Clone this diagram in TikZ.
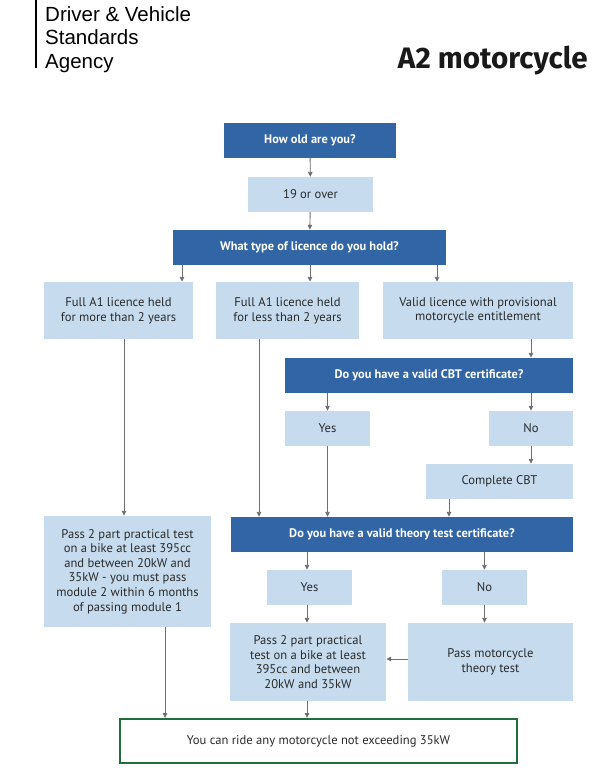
\documentclass[tikz,border=0pt]{standalone}
\usepackage{fontspec}
\setmainfont{PT Sans}
\newfontfamily\headfont{Liberation Sans}
\newfontfamily\titlefont{Fira Sans}
\usetikzlibrary{arrows.meta, calc}

\definecolor{qblue}{HTML}{3165A5}
\definecolor{lblue}{HTML}{C6DCEE}
\definecolor{okgreen}{HTML}{1F6E3C}
\definecolor{linegray}{HTML}{6E6E6E}
\definecolor{txtgray}{HTML}{2A2A2A}

\tikzset{
  qbox/.style={fill=qblue, text=white, inner sep=0pt, align=center,
    font=\fontsize{12.4}{14.8}\selectfont\bfseries},
  abox/.style={fill=lblue, text=txtgray, inner sep=0pt, align=center,
    font=\fontsize{12.6}{14.6}\selectfont},
  endbox/.style={draw=okgreen, line width=2pt, fill=white, text=txtgray,
    inner sep=0pt, align=center, font=\fontsize{12.6}{14.6}\selectfont},
  arr/.style={draw=linegray, line width=0.9pt,
    -{Triangle[length=5pt, width=4.5pt]}},
  headtxt/.style={anchor=base west, inner sep=0pt,
    font=\headfont\fontsize{20.5}{23.5}\selectfont}
}

\begin{document}
\begin{tikzpicture}[x=1pt, y=-1pt]

  \useasboundingbox (0,0) rectangle (613,772);

  % header
  \draw[line width=1.3pt] (36,0) -- (36,68);
  \node[headtxt] (dvsaA) at (45,21) {Driver \& Vehicle};
  \node[headtxt] (dvsaB) at (45,44.5) {Standards};
  \node[headtxt] (dvsaC) at (45,68) {Agency};
  \node[anchor=base east, inner sep=0pt, text=black!90, font=\titlefont\fontsize{29.6}{32}\selectfont\bfseries]
    (title) at (588,68) {A2 motorcycle};

  % age and licence
  \node[qbox, minimum width=172pt, minimum height=35pt] (how)  at (310,140.5) {How old are you?};
  \node[abox, minimum width=125pt, minimum height=35pt] (age)  at (310.5,194.5) {19 or over};
  \node[qbox, minimum width=273pt, minimum height=35pt] (type) at (309.5,247.5) {What type of licence do you hold?};

  \node[abox, minimum width=149pt, minimum height=57pt] (more)  at (118.5,310.5)
    {Full A1 licence held\\for more than 2 years};
  \node[abox, minimum width=143pt, minimum height=57pt] (less)  at (287.5,310.5)
    {Full A1 licence held\\for less than 2 years};
  \node[abox, minimum width=190pt, minimum height=57pt] (valid) at (478,310.5)
    {Valid licence with provisional\\motorcycle entitlement};

  % CBT
  \node[qbox, minimum width=288pt, minimum height=35pt] (cbt)  at (429,375.5) {Do you have a valid CBT certificate?};
  \node[abox, minimum width=85pt,  minimum height=35pt] (yesA) at (327.5,428.5) {Yes};
  \node[abox, minimum width=84pt,  minimum height=35pt] (noA)  at (531,428.5) {No};
  \node[abox, minimum width=147pt, minimum height=35pt] (done) at (499.5,481.5) {Complete CBT};

  % theory test
  \node[abox, minimum width=167pt, minimum height=111pt] (passL) at (127.5,571.5)
    {Pass 2 part practical test\\on a bike at least 395cc\\and between 20kW and\\35kW - you must pass\\module 2 within 6 months\\of passing module 1};
  \node[qbox, minimum width=342pt, minimum height=35pt] (theory) at (402,534.5) {Do you have a valid theory test certificate?};
  \node[abox, minimum width=85pt, minimum height=35pt] (yesB) at (309.5,587.5) {Yes};
  \node[abox, minimum width=85pt, minimum height=35pt] (noB)  at (484.5,587.5) {No};
  \node[abox, minimum width=156pt, minimum height=78pt] (passC) at (308,662)
    {Pass 2 part practical\\test on a bike at least\\395cc and between\\20kW and 35kW};
  \node[abox, minimum width=165pt, minimum height=78pt] (passT) at (490.5,662)
    {Pass motorcycle\\theory test};

  % result
  \node[endbox, minimum width=397pt, minimum height=44pt] (ride) at (318.5,741)
    {You can ride any motorcycle not exceeding 35kW};

  % connectors
  \draw[arr] (how) -- (age);
  \draw[arr] (age) -- (type);
  \draw[arr] (type.south -| 182,0) -- (more.north -| 182,0);
  \draw[arr] (type.south -| 310,0) -- (less.north -| 310,0);
  \draw[arr] (type.south -| 437,0) -- (valid.north -| 437,0);

  \draw[arr] (more.south -| 124,0) -- (passL.north -| 124,0);
  \draw[arr] (less.south -| 259,0) -- (theory.north -| 259,0);
  \draw[arr] (valid.south -| noA.north) -- (cbt.north -| noA.north);

  \draw[arr] (cbt.south -| yesA.north) -- (yesA.north);
  \draw[arr] (cbt.south -| noA.north) -- (noA.north);
  \draw[arr] (yesA) -- (theory.north -| yesA.south);
  \draw[arr] (noA) -- (done.north -| noA.south);
  \draw[arr] (done.south -| 449,0) -- (theory.north -| 449,0);

  \draw[arr] (theory.south -| 307,0) -- (yesB.north -| 307,0);
  \draw[arr] (theory.south -| noB.north) -- (noB.north);
  \draw[arr] (yesB.south -| 307,0) -- (passC.north -| 307,0);
  \draw[arr] (noB) -- (passT.north -| noB.south);
  \draw[arr] (passT.west |- 0,659) -- (passC.east |- 0,659);

  \draw[arr] (passL.south -| 165,0) -- (ride.north -| 165,0);
  \draw[arr] (passC.south -| 307,0) -- (ride.north -| 307,0);

\end{tikzpicture}
\end{document}
